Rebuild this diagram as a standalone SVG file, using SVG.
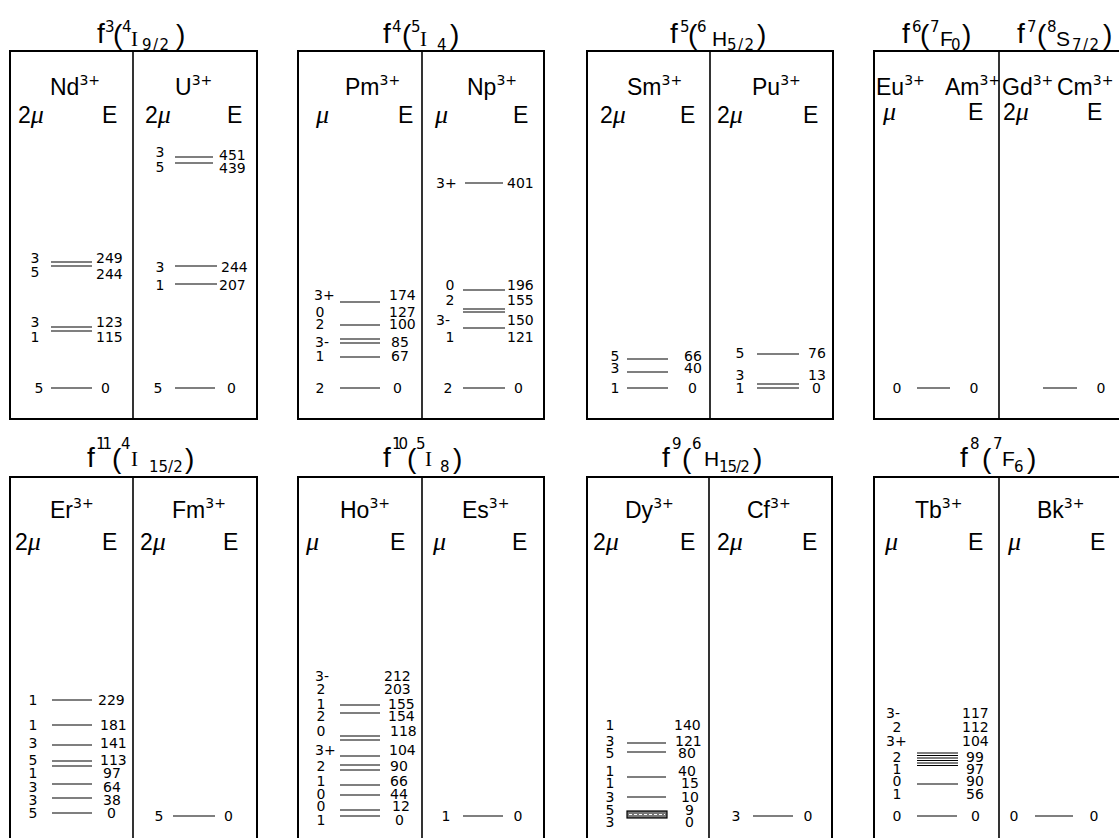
<svg xmlns="http://www.w3.org/2000/svg" width="1119" height="838" viewBox="0 0 1119 838">
<style>
.bg{fill:#fff}
.fr{fill:none;stroke:#000;stroke-width:2}
.dv{stroke:#000;stroke-width:1.6}
.lv{fill:none;stroke:#000;stroke-width:1.2}
.ion{font-family:"Liberation Sans",Arial,sans-serif;font-size:23px;fill:#000}
.sup{font-family:"DejaVu Sans",sans-serif;font-size:14px}
.mu{font-family:"Liberation Serif",serif;font-style:italic;font-size:26px}
.n{font-family:"DejaVu Sans",sans-serif;font-size:14px;fill:#000}
.m{text-anchor:middle}
.t{font-family:"Liberation Sans",Arial,sans-serif;font-size:28px;fill:#000}
.ts{font-family:"DejaVu Sans",sans-serif;font-size:15px}
.tn{letter-spacing:-3px}
.sub{font-family:"DejaVu Sans",sans-serif;font-size:15px;letter-spacing:1.5px}
.s0{letter-spacing:0px}
.s1{letter-spacing:-1px}
.tl{font-size:21px}
.ser{font-family:"Liberation Serif",serif}
</style>
<rect class="bg" x="0" y="0" width="1119" height="838"/>

<!-- ===== TOP ROW ===== -->
<g id="panel-f3">
<rect class="fr" x="10" y="51" width="247" height="368"/>
<line class="dv" x1="133" y1="51" x2="133" y2="419"/>
<text class="t"><tspan x="97" y="43">f</tspan><tspan class="ts" x="105" y="32">3</tspan><tspan x="113" y="44">(</tspan><tspan class="ts" x="122" y="32">4</tspan><tspan class="tl ser" x="131" y="46">I</tspan><tspan class="sub" x="142" y="50">9/2</tspan><tspan x="176" y="44">)</tspan></text>
<g id="Nd3">
<text class="ion" x="50" y="95">Nd<tspan class="sup" dy="-10">3+</tspan></text>
<text class="ion" x="18" y="123">2<tspan class="mu">μ</tspan></text>
<text class="ion" x="102" y="123">E</text>
<path class="lv" d="M51 262H92M51 266H92M51 327H92M51 331H92M51 388H92"/>
<g class="n m"><text x="35" y="263">3</text><text x="35" y="277">5</text><text x="35" y="327">3</text><text x="35" y="342">1</text><text x="39" y="393">5</text></g>
<g class="n"><text x="96" y="263">249</text><text x="96" y="279">244</text><text x="96" y="327">123</text><text x="96" y="342">115</text><text x="101" y="393">0</text></g>
</g>
<g id="U3">
<text class="ion" x="175" y="95">U<tspan class="sup" dy="-10">3+</tspan></text>
<text class="ion" x="145" y="123">2<tspan class="mu">μ</tspan></text>
<text class="ion" x="227" y="123">E</text>
<path class="lv" d="M175 157H213M175 163H213M175 266H217M175 284H217M175 388H215"/>
<g class="n m"><text x="160" y="157">3</text><text x="160" y="172">5</text><text x="160" y="272">3</text><text x="160" y="290">1</text><text x="158" y="393">5</text></g>
<g class="n"><text x="219" y="160">451</text><text x="219" y="173">439</text><text x="221" y="272">244</text><text x="219" y="290">207</text><text x="227" y="393">0</text></g>
</g>
</g>

<g id="panel-f4">
<rect class="fr" x="298" y="51" width="246" height="368"/>
<line class="dv" x1="422" y1="51" x2="422" y2="419"/>
<text class="t"><tspan x="383" y="43">f</tspan><tspan class="ts" x="392" y="32">4</tspan><tspan x="402" y="44">(</tspan><tspan class="ts" x="411" y="32">5</tspan><tspan class="tl ser" x="420" y="46">I</tspan><tspan class="sub" x="437" y="50">4</tspan><tspan x="450" y="44">)</tspan></text>
<g id="Pm3">
<text class="ion" x="345" y="95">Pm<tspan class="sup" dy="-10">3+</tspan></text>
<text class="ion mu" x="316" y="123">μ</text>
<text class="ion" x="398" y="123">E</text>
<path class="lv" d="M340 302H380M340 325H380M340 339H380M340 343H380M340 357H380M340 388H380"/>
<g class="n"><text x="314" y="300">3+</text><text x="315" y="347">3-</text></g>
<g class="n m"><text x="320" y="317">0</text><text x="320" y="329">2</text><text x="320" y="361">1</text><text x="320" y="393">2</text></g>
<g class="n"><text x="389" y="300">174</text><text x="389" y="317">127</text><text x="389" y="329">100</text><text x="391" y="347">85</text><text x="391" y="361">67</text><text x="393" y="393">0</text></g>
</g>
<g id="Np3">
<text class="ion" x="467" y="95">Np<tspan class="sup" dy="-10">3+</tspan></text>
<text class="ion mu" x="435" y="123">μ</text>
<text class="ion" x="513" y="123">E</text>
<path class="lv" d="M465 183H503M463 290H505M463 309H505M463 312H505M463 328H505M463 388H505"/>
<g class="n"><text x="436" y="188">3+</text><text x="436" y="325">3-</text></g>
<g class="n m"><text x="450" y="290">0</text><text x="450" y="305">2</text><text x="450" y="342">1</text><text x="448" y="393">2</text></g>
<g class="n"><text x="507" y="188">401</text><text x="507" y="290">196</text><text x="507" y="305">155</text><text x="507" y="325">150</text><text x="507" y="342">121</text><text x="514" y="393">0</text></g>
</g>
</g>

<g id="panel-f5">
<rect class="fr" x="587" y="51" width="246" height="368"/>
<line class="dv" x1="710" y1="51" x2="710" y2="419"/>
<text class="t"><tspan x="670" y="43">f</tspan><tspan class="ts" x="680" y="32">5</tspan><tspan x="688" y="44">(</tspan><tspan class="ts" x="697" y="32">6</tspan><tspan class="tl" x="712" y="46">H</tspan><tspan class="sub" x="727" y="50">5/2</tspan><tspan x="757" y="44">)</tspan></text>
<g id="Sm3">
<text class="ion" x="627" y="95">Sm<tspan class="sup" dy="-10">3+</tspan></text>
<text class="ion" x="600" y="123">2<tspan class="mu">μ</tspan></text>
<text class="ion" x="680" y="123">E</text>
<path class="lv" d="M627 359H668M627 372H668M627 388H668"/>
<g class="n m"><text x="615" y="361">5</text><text x="615" y="373">3</text><text x="615" y="393">1</text></g>
<g class="n"><text x="684" y="361">66</text><text x="684" y="373">40</text><text x="688" y="393">0</text></g>
</g>
<g id="Pu3">
<text class="ion" x="752" y="95">Pu<tspan class="sup" dy="-10">3+</tspan></text>
<text class="ion" x="717" y="123">2<tspan class="mu">μ</tspan></text>
<text class="ion" x="803" y="123">E</text>
<path class="lv" d="M757 354H799M757 384H799M757 388H799"/>
<g class="n m"><text x="740" y="358">5</text><text x="740" y="380">3</text><text x="740" y="393">1</text></g>
<g class="n"><text x="808" y="358">76</text><text x="808" y="380">13</text><text x="812" y="393">0</text></g>
</g>
</g>

<g id="panel-f6-f7">
<rect class="fr" x="874" y="51" width="252" height="368"/>
<line class="dv" x1="999" y1="51" x2="999" y2="419"/>
<text class="t"><tspan x="902" y="43">f</tspan><tspan class="ts" x="912" y="32">6</tspan><tspan x="920" y="44">(</tspan><tspan class="ts" x="930" y="32">7</tspan><tspan class="tl" x="940" y="46">F</tspan><tspan class="sub" x="951" y="50">0</tspan><tspan x="962" y="44">)</tspan></text>
<text class="t"><tspan x="1017" y="43">f</tspan><tspan class="ts" x="1027" y="32">7</tspan><tspan x="1037" y="44">(</tspan><tspan class="ts" x="1047" y="32">8</tspan><tspan class="tl" x="1056" y="46">S</tspan><tspan class="sub" x="1072" y="50">7/2</tspan><tspan x="1103" y="44">)</tspan></text>
<g id="Eu3-Am3">
<text class="ion" x="876" y="95">Eu<tspan class="sup" dy="-10">3+</tspan></text>
<text class="ion" x="945" y="95">Am<tspan class="sup" dy="-10">3+</tspan></text>
<text class="ion mu" x="883" y="120">μ</text>
<text class="ion" x="968" y="120">E</text>
<path class="lv" d="M917 388H950"/>
<g class="n m"><text x="897" y="393">0</text><text x="974" y="393">0</text></g>
</g>
<g id="Gd3-Cm3">
<text class="ion" x="1002" y="95">Gd<tspan class="sup" dy="-10">3+</tspan></text>
<text class="ion" x="1057" y="95">Cm<tspan class="sup" dy="-10">3+</tspan></text>
<text class="ion" x="1003" y="120">2<tspan class="mu">μ</tspan></text>
<text class="ion" x="1087" y="120">E</text>
<path class="lv" d="M1043 388H1077"/>
<text class="n m" x="1101" y="393">0</text>
</g>
</g>

<!-- ===== BOTTOM ROW ===== -->
<g id="panel-f11">
<rect class="fr" x="10" y="477" width="247" height="372"/>
<line class="dv" x1="133" y1="477" x2="133" y2="849"/>
<text class="t"><tspan x="87" y="467">f</tspan><tspan class="ts tn" x="96" y="449">11</tspan><tspan x="112" y="468">(</tspan><tspan class="ts" x="121" y="449">4</tspan><tspan class="tl ser" x="131" y="466">I</tspan><tspan class="sub s0" x="149" y="472">15/2</tspan><tspan x="185" y="468">)</tspan></text>
<g id="Er3">
<text class="ion" x="50" y="518">Er<tspan class="sup" dy="-10">3+</tspan></text>
<text class="ion" x="15" y="550">2<tspan class="mu">μ</tspan></text>
<text class="ion" x="102" y="550">E</text>
<path class="lv" d="M52 700H92M52 725H92M52 745H92M52 761H92M52 766H92M52 784H92M52 798H92M52 813H92"/>
<g class="n m"><text x="33" y="705">1</text><text x="33" y="730">1</text><text x="33" y="748">3</text><text x="33" y="765">5</text><text x="33" y="778">1</text><text x="33" y="792">3</text><text x="33" y="805">3</text><text x="33" y="818">5</text></g>
<g class="n"><text x="98" y="705">229</text><text x="100" y="730">181</text><text x="100" y="748">141</text><text x="100" y="765">113</text><text x="103" y="778">97</text><text x="103" y="792">64</text><text x="103" y="805">38</text><text x="107" y="818">0</text></g>
</g>
<g id="Fm3">
<text class="ion" x="172" y="518">Fm<tspan class="sup" dy="-10">3+</tspan></text>
<text class="ion" x="140" y="550">2<tspan class="mu">μ</tspan></text>
<text class="ion" x="223" y="550">E</text>
<path class="lv" d="M173 816H215"/>
<text class="n m" x="159" y="821">5</text>
<text class="n" x="224" y="821">0</text>
</g>
</g>

<g id="panel-f10">
<rect class="fr" x="298" y="477" width="246" height="372"/>
<line class="dv" x1="422" y1="477" x2="422" y2="849"/>
<text class="t"><tspan x="383" y="467">f</tspan><tspan class="ts tn" x="392" y="449">10</tspan><tspan x="407" y="468">(</tspan><tspan class="ts" x="416" y="449">5</tspan><tspan class="tl ser" x="425" y="466">I</tspan><tspan class="sub" x="440" y="472">8</tspan><tspan x="453" y="468">)</tspan></text>
<g id="Ho3">
<text class="ion" x="340" y="518">Ho<tspan class="sup" dy="-10">3+</tspan></text>
<text class="ion mu" x="306" y="550">μ</text>
<text class="ion" x="390" y="550">E</text>
<path class="lv" d="M340 705H380M340 713H380M340 736H380M340 740H380M340 756H380M340 765H380M340 770H380M340 785H380M340 795H380M340 810H380M340 816H380"/>
<g class="n"><text x="315" y="681">3-</text><text x="315" y="755">3+</text></g>
<g class="n m"><text x="321" y="694">2</text><text x="321" y="709">1</text><text x="321" y="721">2</text><text x="321" y="736">0</text><text x="321" y="771">2</text><text x="321" y="786">1</text><text x="321" y="799">0</text><text x="321" y="811">0</text><text x="321" y="825">1</text></g>
<g class="n"><text x="384" y="681">212</text><text x="384" y="694">203</text><text x="388" y="709">155</text><text x="388" y="721">154</text><text x="390" y="736">118</text><text x="389" y="755">104</text><text x="390" y="771">90</text><text x="390" y="786">66</text><text x="390" y="799">44</text><text x="392" y="811">12</text><text x="395" y="825">0</text></g>
</g>
<g id="Es3">
<text class="ion" x="462" y="518">Es<tspan class="sup" dy="-10">3+</tspan></text>
<text class="ion mu" x="433" y="550">μ</text>
<text class="ion" x="512" y="550">E</text>
<path class="lv" d="M463 816H503"/>
<g class="n m"><text x="446" y="821">1</text><text x="518" y="821">0</text></g>
</g>
</g>

<g id="panel-f9">
<rect class="fr" x="587" y="477" width="245" height="372"/>
<line class="dv" x1="709" y1="477" x2="709" y2="849"/>
<text class="t"><tspan x="662" y="467">f</tspan><tspan class="ts" x="672" y="449">9</tspan><tspan x="682" y="468">(</tspan><tspan class="ts" x="692" y="449">6</tspan><tspan class="tl" x="704" y="466">H</tspan><tspan class="sub s1" x="719" y="472">15/2</tspan><tspan x="753" y="468">)</tspan></text>
<g id="Dy3">
<text class="ion" x="625" y="518">Dy<tspan class="sup" dy="-10">3+</tspan></text>
<text class="ion" x="593" y="550">2<tspan class="mu">μ</tspan></text>
<text class="ion" x="680" y="550">E</text>
<path class="lv" d="M627 743H666M627 752H666M627 777H666M627 797H666"/>
<rect x="627" y="811" width="40" height="7" fill="#777" stroke="#000" stroke-width="1.2"/>
<path d="M629 814.5H665" stroke="#fff" stroke-width="1" stroke-dasharray="3 2"/>
<g class="n m"><text x="610" y="730">1</text><text x="610" y="746">3</text><text x="610" y="758">5</text><text x="610" y="776">1</text><text x="610" y="788">1</text><text x="610" y="802">3</text><text x="610" y="815">5</text><text x="610" y="827">3</text></g>
<g class="n"><text x="674" y="730">140</text><text x="675" y="746">121</text><text x="678" y="758">80</text><text x="678" y="776">40</text><text x="681" y="788">15</text><text x="681" y="802">10</text><text x="685" y="815">9</text><text x="685" y="827">0</text></g>
</g>
<g id="Cf3">
<text class="ion" x="747" y="518">Cf<tspan class="sup" dy="-10">3+</tspan></text>
<text class="ion" x="717" y="550">2<tspan class="mu">μ</tspan></text>
<text class="ion" x="802" y="550">E</text>
<path class="lv" d="M753 816H793"/>
<g class="n m"><text x="736" y="821">3</text><text x="808" y="821">0</text></g>
</g>
</g>

<g id="panel-f8">
<rect class="fr" x="874" y="477" width="252" height="372"/>
<line class="dv" x1="999" y1="477" x2="999" y2="849"/>
<text class="t"><tspan x="960" y="467">f</tspan><tspan class="ts" x="970" y="449">8</tspan><tspan x="982" y="468">(</tspan><tspan class="ts" x="993" y="449">7</tspan><tspan class="tl" x="1002" y="466">F</tspan><tspan class="sub" x="1014" y="472">6</tspan><tspan x="1027" y="468">)</tspan></text>
<g id="Tb3">
<text class="ion" x="915" y="518">Tb<tspan class="sup" dy="-10">3+</tspan></text>
<text class="ion mu" x="885" y="550">μ</text>
<text class="ion" x="968" y="550">E</text>
<path class="lv" d="M917 753H958M917 755.5H958M917 758H958M917 760.5H958M917 763H958M917 765.5H958M917 784H958M917 816H957"/>
<g class="n"><text x="886" y="718">3-</text><text x="886" y="746">3+</text></g>
<g class="n m"><text x="897" y="732">2</text><text x="897" y="762">2</text><text x="897" y="774">1</text><text x="897" y="786">0</text><text x="897" y="799">1</text><text x="897" y="821">0</text></g>
<g class="n"><text x="962" y="718">117</text><text x="962" y="732">112</text><text x="962" y="746">104</text><text x="966" y="762">99</text><text x="966" y="774">97</text><text x="966" y="786">90</text><text x="966" y="799">56</text><text x="971" y="821">0</text></g>
</g>
<g id="Bk3">
<text class="ion" x="1037" y="518">Bk<tspan class="sup" dy="-10">3+</tspan></text>
<text class="ion mu" x="1008" y="550">μ</text>
<text class="ion" x="1090" y="550">E</text>
<path class="lv" d="M1035 816H1073"/>
<g class="n m"><text x="1014" y="821">0</text><text x="1094" y="821">0</text></g>
</g>
</g>
</svg>
